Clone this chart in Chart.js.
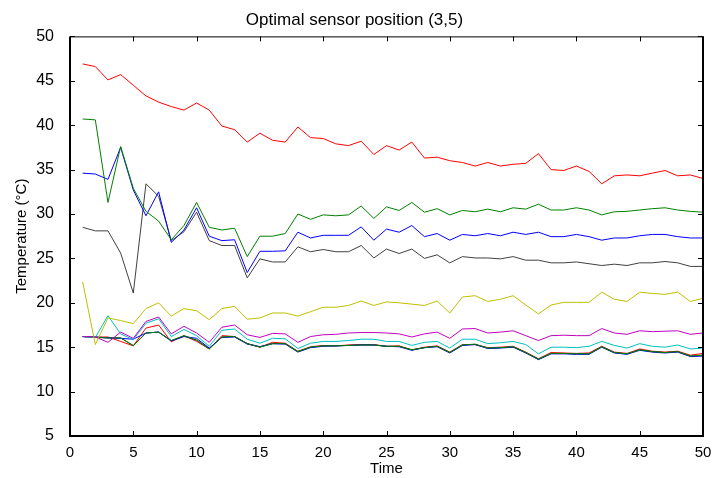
<!DOCTYPE html>
<html>
<head>
<meta charset="utf-8">
<script src="https://cdn.jsdelivr.net/npm/chart.js@4.4.0/dist/chart.umd.min.js"></script>
<style>
    html, body { margin: 0; padding: 0; background: #fff; }
    #wrap { width: 715px; height: 478px; }
</style>
</head>
<body>
<div id="wrap"><canvas id="sensorChart" width="715" height="478"></canvas></div>
<script>
// Time steps
const times = [1,2,3,4,5,6,7,8,9,10,11,12,13,14,15,16,17,18,19,20,21,22,23,24,25,
               26,27,28,29,30,31,32,33,34,35,36,37,38,39,40,41,42,43,44,45,46,47,48,49,50];

// Temperatures per sensor
const redTop = [46.9,46.6,45.1,45.7,44.5,43.3,42.6,42.1,41.7,42.5,41.7,39.9,39.5,38.1,39.1,38.3,38.1,39.8,38.6,38.5,
                37.9,37.7,38.2,36.7,37.7,37.2,38.1,36.3,36.4,36.0,35.8,35.4,35.8,35.4,35.6,35.7,36.8,35.0,34.9,35.4,
                34.8,33.4,34.3,34.4,34.3,34.6,34.9,34.3,34.4,34.0];
const greenTop = [40.7,40.6,31.3,37.6,32.9,30.3,29.2,27.1,28.7,31.3,28.5,28.2,28.4,25.2,27.5,27.5,27.8,30.0,29.4,29.9,
                  29.8,29.9,30.9,29.5,30.8,30.4,31.3,30.2,30.6,29.9,30.4,30.25,30.55,30.25,30.7,30.55,31.1,30.45,30.45,30.7,
                  30.45,29.9,30.25,30.3,30.45,30.6,30.7,30.45,30.3,30.2];
const blueTop = [34.6,34.5,33.9,37.5,32.7,29.8,32.5,26.8,28.2,30.7,27.5,27.0,27.1,23.4,25.8,25.8,25.85,27.95,27.3,27.6,
                 27.6,27.6,28.55,27.05,28.3,27.95,28.7,27.45,27.8,27.05,27.7,27.55,27.8,27.55,27.95,27.7,27.95,27.45,27.45,27.7,
                 27.45,27.05,27.3,27.3,27.55,27.7,27.7,27.45,27.3,27.3];
const blackTop = [28.5,28.1,28.1,25.6,21.1,33.4,32.0,27.0,28.0,30.2,27.0,26.45,26.45,22.8,24.95,24.6,24.6,26.3,25.75,26.0,
                  25.75,25.75,26.45,25.05,26.05,25.55,26.05,25.0,25.4,24.5,25.2,25.05,25.05,24.95,25.2,24.8,24.8,24.5,24.5,24.6,
                  24.4,24.2,24.35,24.2,24.5,24.5,24.65,24.5,24.1,24.1];
const yellow = [22.35,15.3,18.3,18.0,17.65,19.35,20.0,18.5,19.35,19.1,18.1,19.35,19.6,18.15,18.3,18.85,18.85,18.5,19.0,19.5,
                19.5,19.7,20.2,19.7,20.1,20.0,19.85,19.7,20.2,18.85,20.65,20.8,20.15,20.4,20.8,19.75,18.75,19.75,20.05,20.05,
                20.05,21.2,20.4,20.15,21.2,21.05,20.95,21.2,20.15,20.5];
const magenta = [16.2,16.15,15.55,16.7,16.0,17.9,18.4,16.5,17.35,16.6,15.55,17.25,17.5,16.4,16.1,16.55,16.5,15.55,16.2,16.4,
                 16.45,16.6,16.65,16.65,16.6,16.5,16.15,16.5,16.7,16.0,17.05,17.1,16.6,16.7,16.85,16.3,15.75,16.3,16.35,16.3,
                 16.3,17.1,16.6,16.45,16.85,16.75,16.8,16.85,16.45,16.6];
const cyan = [16.2,16.1,18.55,16.5,15.85,17.7,18.2,16.2,17.0,16.3,15.1,16.9,17.05,15.9,15.45,16.0,15.95,14.85,15.45,15.65,
              15.65,15.75,15.9,15.9,15.65,15.65,15.2,15.55,15.65,14.9,15.9,15.9,15.4,15.5,15.65,15.3,14.25,15.0,15.0,14.95,
              15.1,15.65,15.2,14.9,15.4,15.1,15.0,15.25,14.8,14.9];
const redLow = [16.2,16.15,16.15,15.65,15.15,17.15,17.5,15.6,16.3,15.65,14.8,16.3,16.2,15.4,15.0,15.55,15.45,14.55,15.05,15.2,
                15.15,15.25,15.3,15.3,15.1,15.15,14.7,15.0,15.15,14.45,15.3,15.3,14.95,15.0,15.1,14.45,13.7,14.4,14.35,14.3,
                14.35,15.1,14.45,14.3,14.8,14.55,14.45,14.55,14.1,14.3];
const greenLow = [16.2,16.1,16.05,16.05,15.15,16.6,16.7,15.75,16.3,15.8,14.8,16.15,16.2,15.4,15.0,15.4,15.4,14.5,15.0,15.15,
                  15.15,15.2,15.25,15.25,15.1,15.1,14.7,14.95,15.1,14.4,15.25,15.35,14.9,14.95,15.05,14.4,13.65,14.3,14.3,14.25,
                  14.25,15.05,14.4,14.25,14.7,14.5,14.4,14.5,14.0,14.1];
const blueLow = [16.2,16.15,16.05,16.0,15.9,16.6,16.7,15.7,16.2,16.0,14.9,16.1,16.15,15.35,15.05,15.4,15.35,14.45,14.95,15.1,
                 15.15,15.2,15.25,15.25,15.1,15.05,14.65,14.95,15.05,14.35,15.2,15.3,14.85,14.9,15.0,14.35,13.6,14.25,14.25,14.2,
                 14.2,15.0,14.35,14.2,14.65,14.45,14.35,14.45,13.95,14.0];
const blackLow = [16.2,16.1,16.05,16.05,15.2,16.6,16.7,15.75,16.25,15.8,14.85,16.15,16.2,15.4,15.05,15.4,15.4,14.5,15.0,15.15,
                  15.15,15.2,15.25,15.25,15.1,15.1,14.7,14.95,15.1,14.4,15.25,15.3,14.9,14.95,15.05,14.4,13.65,14.3,14.3,14.25,
                  14.25,15.05,14.4,14.25,14.7,14.5,14.4,14.5,14.0,14.1];

const seriesList = [redTop, greenTop, blueTop, blackTop, yellow, magenta, cyan, greenLow, blueLow, blackLow, redLow];
const seriesColors = ['#ff0000', '#008000', '#0000ff', '#404040', '#bfbf00', '#bf00bf', '#00bfbf',
                      '#008000', '#0000ff', '#404040', '#ff0000'];

const fontFamily = '"Liberation Sans", Arial, sans-serif';

// Inside tick marks + axes box, MATLAB style
const boxTicks = {
    id: 'boxTicks',
    afterDraw(chart) {
        const { ctx, chartArea: a, scales: { x, y } } = chart;
        ctx.save();
        ctx.strokeStyle = '#000';
        ctx.lineWidth = 1;
        ctx.beginPath();
        x.ticks.forEach(t => {
            const px = Math.round(x.getPixelForValue(t.value)) + 0.5;
            ctx.moveTo(px, a.bottom); ctx.lineTo(px, a.bottom - 5);
            ctx.moveTo(px, a.top); ctx.lineTo(px, a.top + 5);
        });
        y.ticks.forEach(t => {
            const py = Math.round(y.getPixelForValue(t.value)) + 0.5;
            ctx.moveTo(a.left, py); ctx.lineTo(a.left + 5, py);
            ctx.moveTo(a.right, py); ctx.lineTo(a.right - 5, py);
        });
        ctx.stroke();
        ctx.lineWidth = 1;
        ctx.beginPath();
        ctx.moveTo(a.left, a.top + 0.5); ctx.lineTo(a.right, a.top + 0.5);
        ctx.stroke();
        ctx.lineWidth = 2;
        ctx.beginPath();
        ctx.moveTo(a.left, a.top); ctx.lineTo(a.left, a.bottom); ctx.lineTo(a.right, a.bottom); ctx.lineTo(a.right, a.top);
        ctx.stroke();
        ctx.restore();
    }
};

const ctx = document.getElementById('sensorChart').getContext('2d');
const sensorChart = new Chart(ctx, {
    type: 'line',
    data: {
        labels: times,
        datasets: seriesList.map((vals, i) => ({
            data: vals,
            borderColor: seriesColors[i],
            borderWidth: 1,
            pointRadius: 0,
            tension: 0,
            fill: false
        }))
    },
    options: {
        responsive: false,
        animation: false,
        devicePixelRatio: 1,
        layout: { padding: { left: 6, right: 12, top: 0, bottom: 0 } },
        plugins: {
            legend: { display: false },
            tooltip: { enabled: false },
            title: {
                display: true,
                text: 'Optimal sensor position (3,5)',
                color: '#000',
                font: { family: fontFamily, size: 17, weight: 'normal' },
                padding: { top: 10, bottom: 6 }
            }
        },
        scales: {
            x: {
                type: 'linear',
                min: 0,
                max: 50,
                grid: { display: false },
                border: { display: false },
                ticks: { stepSize: 5, color: '#000', padding: 0, maxRotation: 0, font: { family: fontFamily, size: 15 } },
                title: { display: true, text: 'Time', color: '#000', padding: { top: 0, bottom: 0 }, font: { family: fontFamily, size: 15 } },
                afterFit: s => { s.height = 42; }
            },
            y: {
                min: 5,
                max: 50,
                grid: { display: false },
                border: { display: false },
                ticks: { stepSize: 5, color: '#000', padding: 8, font: { family: fontFamily, size: 16 } },
                title: { display: true, text: 'Temperature (°C)', color: '#000', padding: { top: 7, bottom: 0 }, font: { family: fontFamily, size: 15 } },
                afterFit: s => { s.width = 64; }
            }
        }
    },
    plugins: [boxTicks]
});
</script>
</body>
</html>
